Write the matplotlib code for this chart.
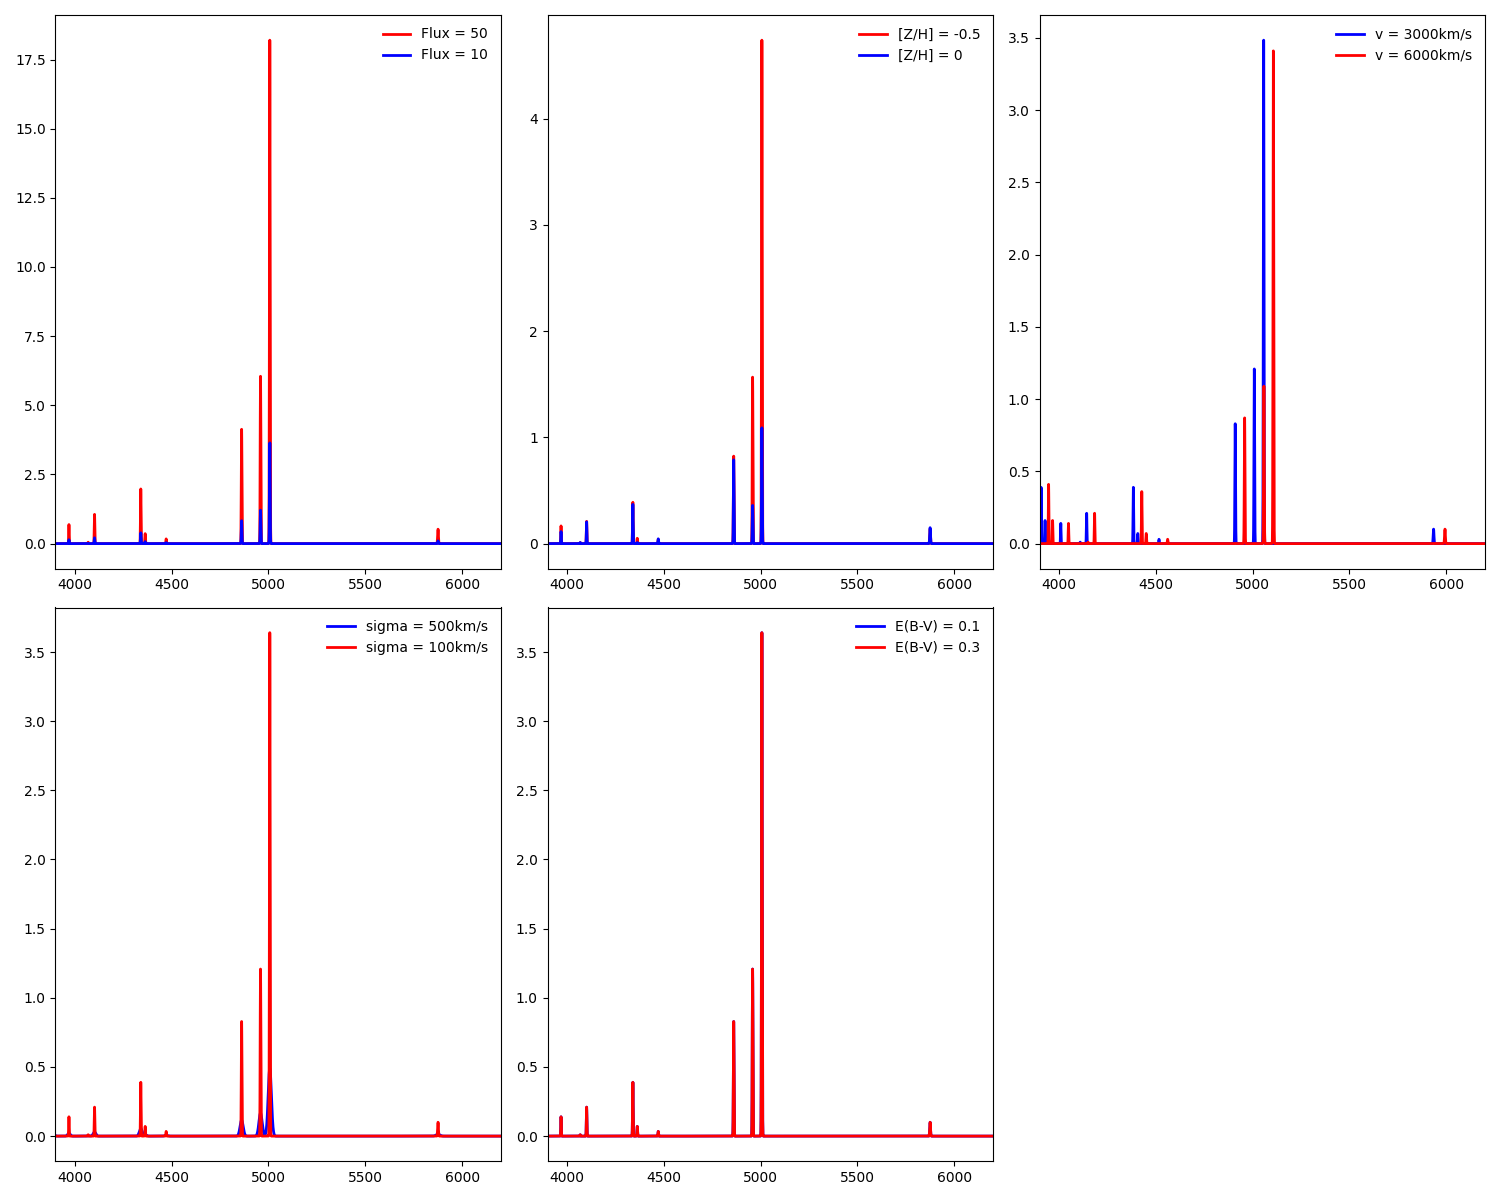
import numpy as np
import matplotlib.pyplot as plt

# emission lines (rest wavelength, Angstrom)
line_names = ['[NeIII]3869', 'H8', 'Heps', '[SII]4069', 'Hdelta', 'Hgamma', '[OIII]4363',
              'HeI4471', 'Hbeta', '[OIII]4959', '[OIII]5007', 'HeI5876']
line_wave = [3868.8, 3889.0, 3969.5, 4068.6, 4101.7, 4340.5, 4363.2,
             4471.5, 4861.3, 4958.9, 5006.8, 5875.6]

# peak heights
flux50 = [1.95, 0.80, 0.69, 0.05, 1.06, 1.98, 0.36, 0.17, 4.14, 6.06, 18.2, 0.52]
flux10 = [0.39, 0.16, 0.14, 0.01, 0.21, 0.39, 0.07, 0.034, 0.83, 1.21, 3.64, 0.10]
zh_m05 = [0.50, 0.16, 0.167, 0.01, 0.21, 0.39, 0.05, 0.04, 0.825, 1.57, 4.74, 0.14]
zh_0 = [0.20, 0.16, 0.113, 0.01, 0.205, 0.37, 0.01, 0.045, 0.79, 0.36, 1.09, 0.15]
v3000 = [0.39, 0.16, 0.14, 0.01, 0.21, 0.39, 0.07, 0.03, 0.83, 1.21, 3.49, 0.10]
v6000 = [0.41, 0.16, 0.14, 0.01, 0.21, 0.36, 0.07, 0.03, 0.87, 1.09, 3.41, 0.10]
sig500 = [0.05, 0.02, 0.02, 0.002, 0.03, 0.055, 0.01, 0.005, 0.115, 0.166, 0.49, 0.014]
sig100 = flux10
ebv01 = flux10
ebv03 = flux10

c = 299792.458
wave = np.arange(3800, 6300, 0.2)


def spectrum(amps, v=0.0, sigma=100.0):
    spec = np.zeros_like(wave)
    for lw, a in zip(line_wave, amps):
        cen = lw * (1 + v / c)
        s = cen * sigma / c
        spec += a * np.exp(-0.5 * ((wave - cen) / s) ** 2)
    return spec


fig, axes = plt.subplots(2, 3, figsize=(15, 12))

# panel 1: flux
ax = axes[0, 0]
ax.plot(wave, spectrum(flux50), color='red', lw=2, label='Flux = 50')
ax.plot(wave, spectrum(flux10), color='blue', lw=2, label='Flux = 10')

# panel 2: metallicity
ax = axes[0, 1]
ax.plot(wave, spectrum(zh_m05), color='red', lw=2, label='[Z/H] = -0.5')
ax.plot(wave, spectrum(zh_0), color='blue', lw=2, label='[Z/H] = 0')

# panel 3: velocity
ax = axes[0, 2]
ax.plot(wave, spectrum(v3000, v=3000), color='blue', lw=2, label='v = 3000km/s')
ax.plot(wave, spectrum(v6000, v=6000), color='red', lw=2, label='v = 6000km/s')

# panel 4: dispersion
ax = axes[1, 0]
ax.plot(wave, spectrum(sig500, sigma=500), color='blue', lw=2, label='sigma = 500km/s')
ax.plot(wave, spectrum(sig100, sigma=100), color='red', lw=2, label='sigma = 100km/s')

# panel 5: extinction
ax = axes[1, 1]
ax.plot(wave, spectrum(ebv01), color='blue', lw=2, label='E(B-V) = 0.1')
ax.plot(wave, spectrum(ebv03), color='red', lw=2, label='E(B-V) = 0.3')

for ax in axes.flat[:5]:
    ax.set_xlim(3900, 6200)
    ax.legend(loc='upper right', frameon=False)

axes[1, 2].axis('off')

plt.tight_layout()
plt.savefig('out.png', dpi=100)
